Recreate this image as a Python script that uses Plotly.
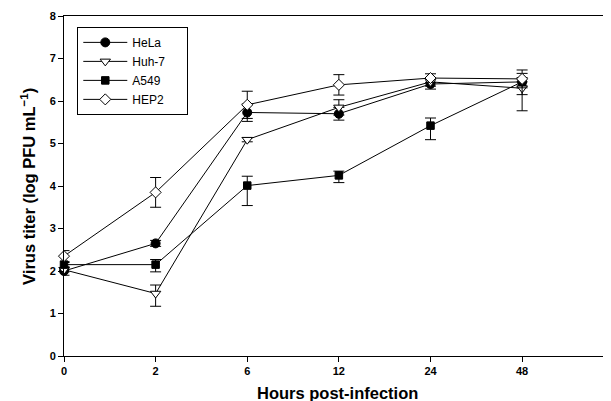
import plotly.graph_objects as go

hours = ["0", "2", "6", "12", "24", "48"]
xpos = [0, 1, 2, 3, 4, 5]

hela = [2.00, 2.65, 5.73, 5.70, 6.40, 6.45]
hela_ep = [0.07, 0.07, 0.20, 0.15, 0.12, 0.10]
hela_em = [0.10, 0.07, 0.21, 0.15, 0.12, 0.10]

huh7 = [2.03, 1.47, 5.09, 5.85, 6.45, 6.30]
huh7_ep = [0.05, 0.20, 0.05, 0.18, 0.10, 0.15]
huh7_em = [0.05, 0.30, 0.05, 0.18, 0.10, 0.53]

a549 = [2.15, 2.15, 4.01, 4.25, 5.42, 6.45]
a549_ep = [0.05, 0.12, 0.22, 0.10, 0.18, 0.20]
a549_em = [0.05, 0.17, 0.47, 0.17, 0.33, 0.30]

hep2 = [2.35, 3.85, 5.91, 6.38, 6.54, 6.52]
hep2_e = [0.13, 0.35, 0.32, 0.24, 0.10, 0.21]

FONT = "Liberation Sans, Arial, sans-serif"
PAD = "\u00a0" * 5

fig = go.Figure()

def add(name, y, ep, em, symbol, size, fill):
    fig.add_trace(go.Scatter(
        x=xpos, y=y, name=name + PAD, mode="lines+markers",
        line=dict(color="black", width=1),
        marker=dict(symbol=symbol, size=size, color=fill,
                    line=dict(color="black", width=1)),
        error_y=dict(type="data", array=ep, arrayminus=em, visible=True,
                     color="black", thickness=1, width=5.5),
        cliponaxis=False,
    ))

add("HeLa", hela, hela_ep, hela_em, "circle", 9, "black")
add("Huh-7", huh7, huh7_ep, huh7_em, "triangle-down", 9, "white")
add("A549", a549, a549_ep, a549_em, "square", 7.5, "black")
add("HEP2", hep2, hep2_e, hep2_e, "diamond", 8.5, "white")

# page body has an 8px margin; size the figure so the plot lands where the reference has it
fig.update_layout(
    width=603, height=393,
    margin=dict(l=56, r=0, t=8, b=45),
    plot_bgcolor="white", paper_bgcolor="white",
    font=dict(family=FONT, color="black"),
    showlegend=True,
    legend=dict(x=0.0243, y=0.968, xanchor="left", yanchor="top",
                bordercolor="black", borderwidth=1, bgcolor="white",
                itemwidth=44,
                font=dict(size=12, family=FONT), tracegroupgap=0),
    xaxis=dict(range=[0, 5.97], tickvals=xpos, ticktext=hours,
               showgrid=False, zeroline=False, showline=True,
               linecolor="black", linewidth=1, mirror=True,
               ticks="outside", ticklen=5, tickcolor="black",
               tickfont=dict(size=11, family=FONT, weight="bold")),
    yaxis=dict(range=[0, 8], dtick=1, tick0=0,
               showgrid=False, zeroline=False, showline=True,
               linecolor="black", linewidth=1,
               ticks="outside", ticklen=5, tickcolor="black",
               tickfont=dict(size=11, family=FONT, weight="bold")),
    annotations=[
        dict(text="<b>Hours post-infection</b>", xref="paper", yref="paper",
             x=0.5, y=-0.108, xanchor="center", yanchor="middle",
             showarrow=False, font=dict(size=16.5, family=FONT)),
        dict(text="<b>Virus titer (log PFU mL<sup>\u22121</sup>)</b>",
             xref="paper", yref="paper", x=-0.066, y=0.5,
             xanchor="center", yanchor="middle", textangle=-90,
             showarrow=False, font=dict(size=16.5, family=FONT)),
    ],
)

fig.write_html("out.html")
